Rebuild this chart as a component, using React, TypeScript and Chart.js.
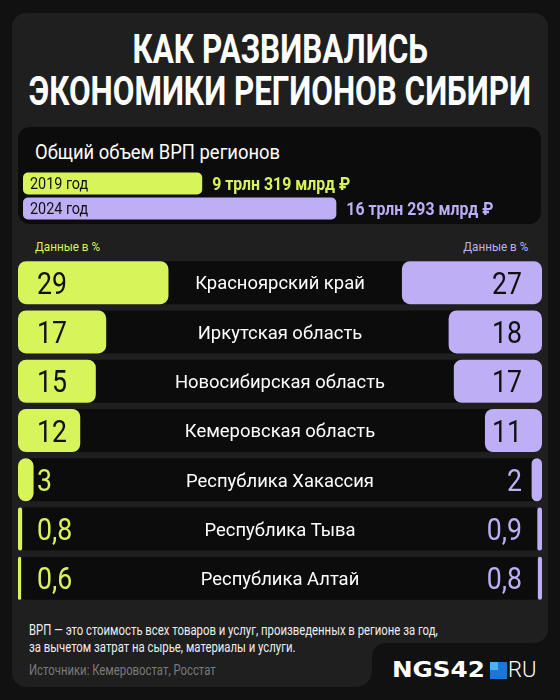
import React, { useEffect, useRef } from "react";
import { Chart, registerables } from "chart.js";

Chart.register(...registerables);

// ---------- data ----------
const regionNames = [
  "Красноярский край",
  "Иркутская область",
  "Новосибирская область",
  "Кемеровская область",
  "Республика Хакассия",
  "Республика Тыва",
  "Республика Алтай",
];
const share2019 = [29, 17, 15, 12, 3, 0.8, 0.6];
const share2024 = [27, 18, 17, 11, 2, 0.9, 0.8];

const totalYearLabels = ["2019 год", "2024 год"];
const totalTrillions = [9.319, 16.293];
const totalValueLabels = ["9 трлн 319 млрд ₽", "16 трлн 293 млрд ₽"];

// ---------- style ----------
const YELLOW = "#d8f45b";
const PURPLE = "#bdaef6";
const ROW_BG = "#0c0c0c";
const CARD = "#1f1f1f";
const PAGE = "#111112";
const SHARE_MAX = 101;
const TOTAL_MAX = 26;

const fmt = (v: number) => String(v).replace(".", ",");

function drawText(
  ctx: CanvasRenderingContext2D,
  text: string,
  x: number,
  yCenter: number,
  align: CanvasTextAlign,
  size: number,
  weight: number,
  color: string,
  sx: number
) {
  ctx.save();
  ctx.font = `${weight} ${size}px Roboto`;
  ctx.fillStyle = color;
  ctx.textAlign = align;
  ctx.textBaseline = "alphabetic";
  ctx.translate(x, yCenter + 0.3555 * size);
  ctx.scale(sx, 1);
  ctx.fillText(text, 0, 0);
  ctx.restore();
}

function RegionsChart() {
  const ref = useRef<HTMLCanvasElement>(null);
  useEffect(() => {
    const plugin = {
      id: "regionDecor",
      beforeDatasetsDraw(chart: any) {
        const { ctx, chartArea } = chart;
        const meta = chart.getDatasetMeta(0);
        ctx.save();
        ctx.fillStyle = ROW_BG;
        meta.data.forEach((bar: any) => {
          const h = bar.height;
          ctx.beginPath();
          ctx.roundRect(chartArea.left, bar.y - h / 2, chartArea.right - chartArea.left, h, 8);
          ctx.fill();
        });
        ctx.restore();
      },
      afterDatasetsDraw(chart: any) {
        const { ctx, chartArea } = chart;
        const meta = chart.getDatasetMeta(0);
        const cx = (chartArea.left + chartArea.right) / 2;
        meta.data.forEach((bar: any, i: number) => {
          const y = bar.y;
          drawText(ctx, regionNames[i], cx, y, "center", 19, 400, "#ffffff", 0.97);
          const a = share2019[i];
          drawText(ctx, fmt(a), chartArea.left + 19, y, "left", 31, 400, a >= 10 ? "#111111" : YELLOW, 0.86);
          const b = share2024[i];
          drawText(ctx, fmt(b), chartArea.right - 20, y, "right", 31, 400, b >= 10 ? "#111111" : PURPLE, 0.86);
        });
      },
    };
    const common = {
      grouped: false,
      borderRadius: 8,
      borderSkipped: false as const,
      barPercentage: 0.873,
      categoryPercentage: 1,
      order: 1,
    };
    const chart = new Chart(ref.current!, {
      type: "bar",
      data: {
        labels: regionNames,
        datasets: [
          { ...common, label: "2019", data: share2019, xAxisID: "x", backgroundColor: YELLOW },
          { ...common, label: "2024", data: share2024, xAxisID: "x2", backgroundColor: PURPLE },
        ],
      },
      options: {
        indexAxis: "y",
        animation: false,
        responsive: false,
        maintainAspectRatio: false,
        events: [],
        layout: { padding: 0 },
        scales: {
          x: { axis: "x", display: false, min: 0, max: SHARE_MAX },
          x2: { axis: "x", display: false, min: 0, max: SHARE_MAX, reverse: true },
          y: { display: false },
        },
        plugins: { legend: { display: false }, tooltip: { enabled: false } },
      } as any,
      plugins: [plugin],
    });
    return () => chart.destroy();
  }, []);
  return (
    <canvas
      ref={ref}
      width={524}
      height={345}
      style={{ position: "absolute", left: 18, top: 258, width: 524, height: 345 }}
    />
  );
}

function TotalsChart() {
  const ref = useRef<HTMLCanvasElement>(null);
  useEffect(() => {
    const colors = [YELLOW, PURPLE];
    const plugin = {
      id: "totalLabels",
      afterDatasetsDraw(chart: any) {
        const { ctx } = chart;
        const meta = chart.getDatasetMeta(0);
        meta.data.forEach((bar: any, i: number) => {
          drawText(ctx, totalYearLabels[i], bar.base + 7, bar.y, "left", 16, 400, "#111111", 0.9);
          drawText(ctx, totalValueLabels[i], bar.x + 10, bar.y, "left", 18, 700, colors[i], 0.88);
        });
      },
    };
    const chart = new Chart(ref.current!, {
      type: "bar",
      data: {
        labels: totalYearLabels,
        datasets: [
          {
            label: "ВРП",
            data: totalTrillions,
            backgroundColor: colors,
            borderRadius: 5,
            borderSkipped: false,
            barPercentage: 0.88,
            categoryPercentage: 1,
          },
        ],
      },
      options: {
        indexAxis: "y",
        animation: false,
        responsive: false,
        maintainAspectRatio: false,
        events: [],
        layout: { padding: 0 },
        scales: {
          x: { display: false, min: 0, max: TOTAL_MAX },
          y: { display: false },
        },
        plugins: { legend: { display: false }, tooltip: { enabled: false } },
      } as any,
      plugins: [plugin],
    });
    return () => chart.destroy();
  }, []);
  return (
    <canvas
      ref={ref}
      width={500}
      height={50}
      style={{ position: "absolute", left: 23, top: 171, width: 500, height: 50 }}
    />
  );
}

function T(props: {
  x: number;
  y: number;
  size: number;
  weight?: number;
  color: string;
  sx?: number;
  align?: "left" | "right" | "center";
  family?: string;
  children: React.ReactNode;
}) {
  const { x, y, size, weight = 400, color, sx = 1, align = "left", family = "Roboto", children } = props;
  const base: React.CSSProperties = {
    position: "absolute",
    top: y - 0.486 * size,
    whiteSpace: "nowrap",
    fontFamily: family,
    fontWeight: weight,
    fontSize: size,
    lineHeight: `${size}px`,
    color,
  };
  if (align === "left")
    return (
      <div style={{ ...base, left: x, transform: `scaleX(${sx})`, transformOrigin: "left center" }}>{children}</div>
    );
  if (align === "right")
    return (
      <div style={{ ...base, right: 560 - x, transform: `scaleX(${sx})`, transformOrigin: "right center" }}>
        {children}
      </div>
    );
  return (
    <div style={{ ...base, left: x - 400, width: 800, textAlign: "center" }}>
      <span style={{ display: "inline-block", transform: `scaleX(${sx})`, transformOrigin: "center" }}>{children}</span>
    </div>
  );
}

export default function App() {
  useEffect(() => {
    document.body.style.background = PAGE;
  }, []);
  return (
    <div
      style={{
        position: "absolute",
        left: 0,
        top: 0,
        width: 560,
        height: 700,
        background: PAGE,
        overflow: "hidden",
      }}
    >
      {/* card */}
      <div style={{ position: "absolute", left: 12, top: 13, width: 536, height: 630, background: CARD, borderRadius: 14 }} />
      <div
        style={{
          position: "absolute",
          left: 12,
          top: 600,
          width: 360,
          height: 87,
          background: CARD,
          borderRadius: "0 0 16px 14px",
        }}
      />
      <div style={{ position: "absolute", left: 372, top: 643, width: 14, height: 14, background: CARD }}>
        <div style={{ width: 14, height: 14, background: PAGE, borderTopLeftRadius: 14 }} />
      </div>

      {/* title */}
      <T x={280} y={49} size={40} weight={700} color="#ffffff" sx={0.785} align="center">
        КАК РАЗВИВАЛИСЬ
      </T>
      <T x={280} y={91} size={40} weight={700} color="#ffffff" sx={0.785} align="center">
        ЭКОНОМИКИ РЕГИОНОВ СИБИРИ
      </T>

      {/* totals */}
      <div style={{ position: "absolute", left: 18, top: 127, width: 523, height: 97, background: ROW_BG, borderRadius: 12 }} />
      <T x={35} y={152} size={20} color="#ffffff" sx={0.92}>
        Общий объем ВРП регионов
      </T>
      <TotalsChart />

      <T x={35} y={246} size={13} color={YELLOW} sx={0.9}>
        Данные в %
      </T>
      <T x={528} y={246} size={13} color={PURPLE} sx={0.9} align="right">
        Данные в %
      </T>

      <RegionsChart />

      {/* footer */}
      <T x={29} y={630} size={14} color="#eeeeee" sx={0.81}>
        ВРП — это стоимость всех товаров и услуг, произведенных в регионе за год,
      </T>
      <T x={29} y={647} size={14} color="#eeeeee" sx={0.81}>
        за вычетом затрат на сырье, материалы и услуги.
      </T>
      <T x={29} y={670} size={14} color="#7a7a7a" sx={0.81}>
        Источники: Кемеровостат, Росстат
      </T>

      {/* logo */}
      <T x={392} y={670} size={22} weight={700} color="#ffffff" sx={1.12} family="'DejaVu Sans'">
        NGS42
      </T>
      <div style={{ position: "absolute", left: 490, top: 662, width: 17, height: 17, background: "#1c78d6" }}>
        <div style={{ width: 8, height: 8, background: "#4fb0f2" }} />
      </div>
      <T x={508} y={670} size={22} weight={300} color="#ffffff" sx={1.0}>
        RU
      </T>
    </div>
  );
}
